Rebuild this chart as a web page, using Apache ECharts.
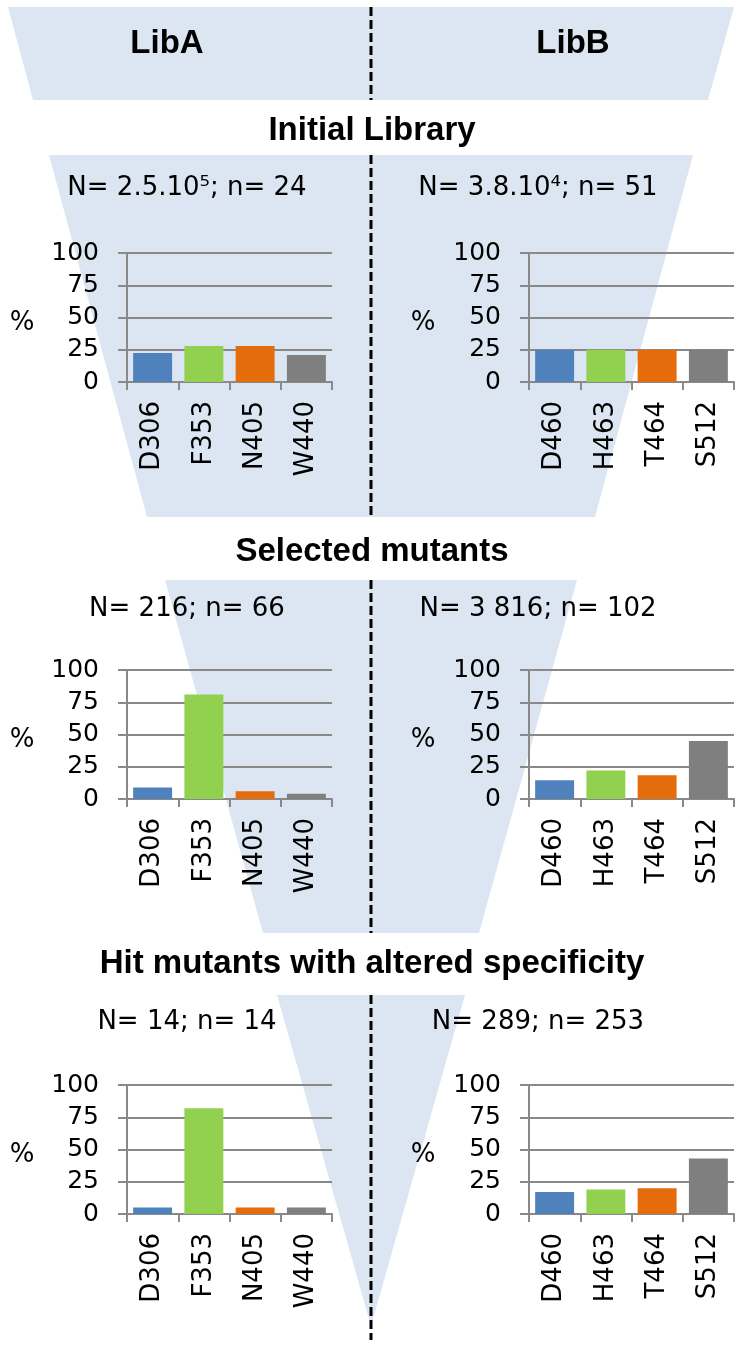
<!DOCTYPE html>
<html>
<head>
<meta charset="utf-8">
<script src="https://cdn.jsdelivr.net/npm/echarts@6/dist/echarts.min.js"></script>
<style>
html,body{margin:0;padding:0;background:#fff;}
#c{width:742px;height:1347px;}
</style>
</head>
<body>
<div id="c"></div>
<script>
// ---- data ----
const catsA = ['D306', 'F353', 'N405', 'W440'];
const catsB = ['D460', 'H463', 'T464', 'S512'];
const initialA = [22.5, 28, 28, 21];
const initialB = [25, 25, 25, 25];
const selectedA = [9, 81, 6, 4];
const selectedB = [14.5, 22, 18.5, 45];
const hitA = [5, 82, 5, 5];
const hitB = [17, 19, 20, 43];
const countLabels = [
  'N= 2.5.10⁵; n= 24', 'N= 3.8.10⁴; n= 51',
  'N= 216; n= 66', 'N= 3 816; n= 102',
  'N= 14; n= 14', 'N= 289; n= 253'
];
const libLabels = ['LibA', 'LibB'];
const stageTitles = ['Initial Library', 'Selected mutants', 'Hit mutants with altered specificity'];
const yMin = 0, yMax = 100, yStep = 25;
const yName = '%';

// ---- styles / layout ----
const barColors = ['#4f81bd', '#92d050', '#e46c0a', '#7f7f7f'];
const band = '#dce6f2';
const gridCol = '#898989';
const chartFont = '"DejaVu Sans", "Liberation Sans", Arial, sans-serif';
const titleFont = '"Liberation Sans", Arial, sans-serif';
const rowTops = [253, 670, 1085];
const colLefts = [127, 529];
const plotW = 205, plotH = 129;
const countY = [188, 609, 1022];
const countX = [187, 538];
const pctX = [22, 423];
const stageY = [131, 552, 964];

const panels = [
  {cats: catsA, vals: initialA}, {cats: catsB, vals: initialB},
  {cats: catsA, vals: selectedA}, {cats: catsB, vals: selectedB},
  {cats: catsA, vals: hitA}, {cats: catsB, vals: hitB}
];

const grids = [], xAxes = [], yAxes = [], series = [];
panels.forEach((p, i) => {
  const row = Math.floor(i / 2), col = i % 2;
  grids.push({left: colLefts[col], top: rowTops[row], width: plotW, height: plotH,
              containLabel: false, outerBoundsMode: 'none'});
  xAxes.push({
    gridIndex: i, type: 'category', data: p.cats,
    axisLine: {show: true, lineStyle: {color: gridCol, width: 2}},
    axisTick: {show: true, length: 8, lineStyle: {color: gridCol, width: 2}},
    axisLabel: {rotate: 90, margin: 19, color: '#000', fontFamily: chartFont, fontSize: 26},
    splitLine: {show: false}
  });
  yAxes.push({
    gridIndex: i, type: 'value', min: yMin, max: yMax, interval: yStep,
    axisLine: {show: true, lineStyle: {color: gridCol, width: 2}},
    axisTick: {show: true, length: 9, lineStyle: {color: gridCol, width: 2}},
    axisLabel: {margin: 28, color: '#000', fontFamily: chartFont, fontSize: 25},
    splitLine: {show: true, lineStyle: {color: gridCol, width: 2}}
  });
  series.push({
    type: 'bar', xAxisIndex: i, yAxisIndex: i, barCategoryGap: '24%',
    data: p.vals.map((v, k) => ({value: v, itemStyle: {color: barColors[k]}})),
    z: 3, silent: true, animation: false
  });
});

// ---- decorative funnel and texts ----
const graphic = [];
function poly(points) {
  graphic.push({type: 'polygon', z: -10, silent: true, shape: {points: points}, style: {fill: band}});
}
poly([[8, 7], [734, 7], [708, 100], [33, 100]]);
poly([[49, 155], [693, 155], [595, 517], [147, 517]]);
poly([[165, 580], [577, 580], [479, 933], [263, 933]]);
poly([[277, 995], [465, 995], [371, 1326]]);
[[7, 100], [155, 517], [580, 933], [995, 1340]].forEach(s => graphic.push({
  type: 'line', z: 5, silent: true, shape: {x1: 371, y1: s[0], x2: 371, y2: s[1]},
  style: {stroke: '#000', lineWidth: 3, lineDash: [9, 4]}}));
libLabels.forEach((t, k) => graphic.push({type: 'text', z: 10, x: k === 0 ? 167 : 573, y: 44,
  style: {text: t, fill: '#000', font: 'bold 33px ' + titleFont, align: 'center', verticalAlign: 'middle'}}));
stageTitles.forEach((t, k) => graphic.push({type: 'text', z: 10, x: 372, y: stageY[k],
  style: {text: t, fill: '#000', font: 'bold 33px ' + titleFont, align: 'center', verticalAlign: 'middle'}}));
countLabels.forEach((t, i) => graphic.push({type: 'text', z: 10, x: countX[i % 2], y: countY[Math.floor(i / 2)],
  style: {text: t, fill: '#000', font: '26px ' + chartFont, align: 'center', verticalAlign: 'middle'}}));
panels.forEach((p, i) => graphic.push({type: 'text', z: 10, x: pctX[i % 2], y: rowTops[Math.floor(i / 2)] + 70,
  style: {text: yName, fill: '#000', font: '26px ' + chartFont, align: 'center', verticalAlign: 'middle'}}));

const chart = echarts.init(document.getElementById('c'), null, {renderer: 'canvas'});
chart.setOption({
  animation: false,
  backgroundColor: '#fff',
  grid: grids, xAxis: xAxes, yAxis: yAxes, series: series,
  graphic: graphic
});
</script>
</body>
</html>
